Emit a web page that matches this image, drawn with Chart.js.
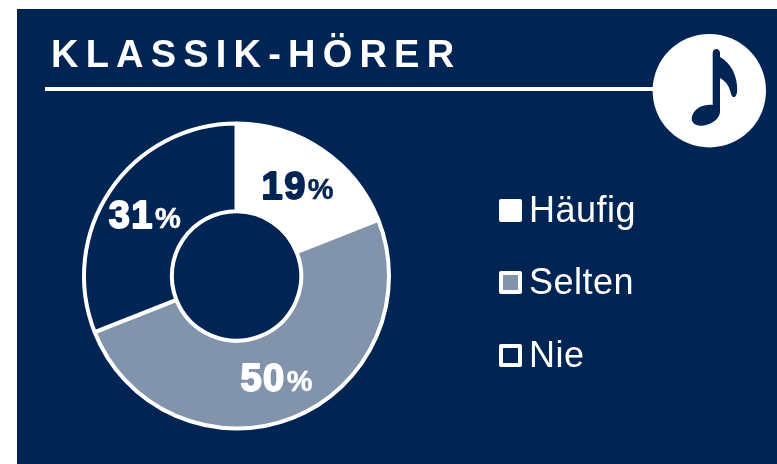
<!DOCTYPE html>
<html lang="de">
<head>
<meta charset="utf-8">
<script src="https://cdn.jsdelivr.net/npm/chart.js@4"></script>
<style>
html,body{margin:0;padding:0;background:#fff;}
#stage{position:relative;width:777px;height:464px;overflow:hidden;background:#fff;font-family:"Liberation Sans",Arial,sans-serif;}
#panel{position:absolute;left:17px;top:9px;right:0;bottom:0;background:#002554;}
#chart{position:absolute;left:0;top:0;}
#title{position:absolute;left:51px;top:32px;color:#fff;font-weight:bold;font-size:38px;line-height:44px;letter-spacing:7.2px;white-space:nowrap;}
#rule{position:absolute;left:45px;top:87px;width:620px;height:4px;background:#fff;}
#badge{position:absolute;left:0;top:0;}
#legend{position:absolute;left:499px;top:0;margin:0;padding:0;list-style:none;color:#fff;}
#legend li{position:absolute;left:0;width:200px;height:36px;display:flex;align-items:center;white-space:nowrap;font-size:36px;letter-spacing:0.5px;}
#legend i{display:block;box-sizing:border-box;width:23px;height:23px;border:4px solid #fff;border-radius:2px;margin-right:7px;}
</style>
</head>
<body>
<div id="stage">
<div id="panel"></div>
<div id="rule"></div>
<svg id="badge" width="777" height="464" viewBox="0 0 777 464" aria-hidden="true">
<circle cx="709.3" cy="90.7" r="56.7" fill="#fff"/>
<path fill="#002554" d="M712.7 53 C712.7 47.5 720 47.5 720 53 L720 57 C731 63 737.5 76 737.2 90 C737 97 734 98 732.5 96.5 C730 94 731 84 720 78 L720 112 C720 119 710 125.7 701 125.7 C693 125.7 690 120 692.5 115 C695 108 704 104 712.7 105 Z"/>
</svg>
<canvas id="chart" width="777" height="464"></canvas>
<div id="title"></div>
<ul id="legend"></ul>
</div>
<script>
const titleText = "KLASSIK-HÖRER";
const categories = ["Häufig", "Selten", "Nie"];
const shares = [19, 50, 31];
const sliceColors = ["#ffffff", "#8294ac", "#002554"];
const labelColors = ["#002554", "#ffffff", "#ffffff"];
const labelNudges = [[0, 0], [0, 1], [-2, 0]];
const legendTops = [192, 264, 337];

document.getElementById("title").textContent = titleText;
const legendEl = document.getElementById("legend");
categories.forEach((c, i) => {
  const li = document.createElement("li");
  li.style.top = legendTops[i] + "px";
  const sw = document.createElement("i");
  sw.style.background = sliceColors[i];
  li.appendChild(sw);
  li.appendChild(document.createTextNode(c));
  legendEl.appendChild(li);
});

const percentLabels = {
  id: "percentLabels",
  afterDatasetsDraw(chart) {
    const { ctx } = chart;
    chart.getDatasetMeta(0).data.forEach((arc, i) => {
      const p = arc.tooltipPosition();
      const num = String(shares[i]);
      ctx.save();
      ctx.fillStyle = labelColors[i];
      ctx.strokeStyle = labelColors[i];
      ctx.lineJoin = "round";
      ctx.textBaseline = "alphabetic";
      ctx.textAlign = "left";
      ctx.font = 'bold 38px "Liberation Sans"';
      ctx.letterSpacing = "1.5px";
      const w1 = ctx.measureText(num).width;
      ctx.letterSpacing = "0px";
      ctx.font = 'bold 29px "Liberation Sans"';
      const w2 = ctx.measureText("%").width;
      const x = p.x - (w1 + w2 + 1) / 2 + labelNudges[i][0];
      const y = p.y + 13 + labelNudges[i][1];
      ctx.font = 'bold 38px "Liberation Sans"';
      ctx.letterSpacing = "1.5px";
      ctx.lineWidth = 1.8;
      ctx.strokeText(num, x, y);
      ctx.fillText(num, x, y);
      ctx.letterSpacing = "0px";
      ctx.font = 'bold 29px "Liberation Sans"';
      ctx.lineWidth = 0.5;
      ctx.strokeText("%", x + w1 + 1, y);
      ctx.fillText("%", x + w1 + 1, y);
      ctx.restore();
    });
  }
};

new Chart(document.getElementById("chart"), {
  type: "doughnut",
  data: {
    labels: categories,
    datasets: [{
      data: shares,
      backgroundColor: sliceColors,
      borderColor: "#ffffff",
      borderWidth: 4
    }]
  },
  options: {
    responsive: false,
    animation: false,
    radius: 152.5,
    cutout: 67,
    layout: { padding: { left: 76, right: 380, top: 116, bottom: 28 } },
    plugins: { legend: { display: false }, tooltip: { enabled: false } }
  },
  plugins: [percentLabels]
});
</script>
</body>
</html>
